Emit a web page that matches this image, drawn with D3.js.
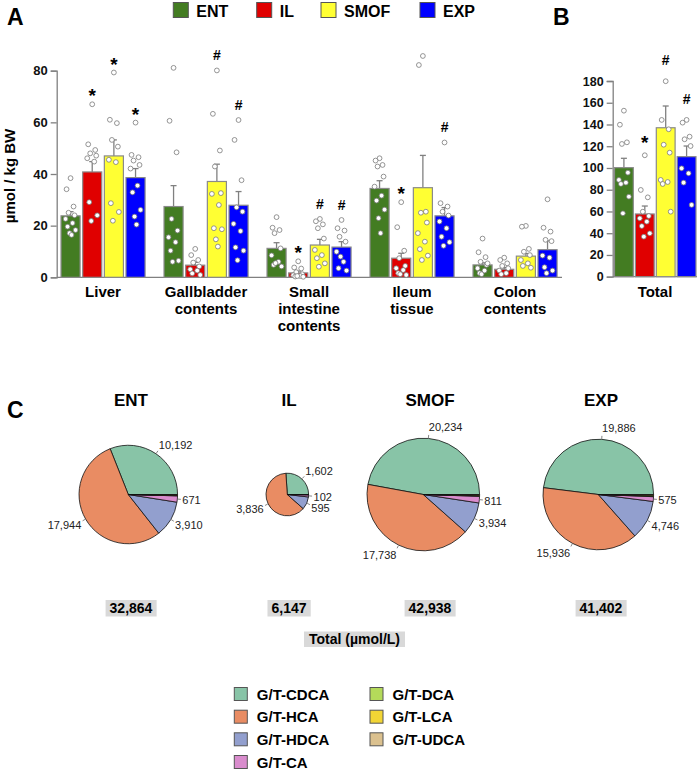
<!DOCTYPE html>
<html><head><meta charset="utf-8">
<script src="https://cdn.jsdelivr.net/npm/d3@7"></script>
<style>
body{margin:0;background:#fff;}
svg{display:block;font-family:"Liberation Sans",Arial,Helvetica,sans-serif;}
</style></head>
<body><svg id="chart" width="697" height="770"></svg>
<script>
// ---------- DATA ----------
const series = ["ENT","IL","SMOF","EXP"];
const seriesColors = ["#437c22","#e00000","#ffff33","#0000ff"];
const categories = ["Liver","Gallbladder contents","Small intestine contents","Ileum tissue","Colon contents"];
const yTicksA = [0,20,40,60,80];
const yTicksB = [0,20,40,60,80,100,120,140,160,180];

const entMean  = [23.8, 27.4, 11.2, 34.4, 4.8];
const ilMean   = [40.8, 4.7, 1.7, 7.4, 3.1];
const smofMean = [47.0, 37.1, 12.5, 34.7, 8.2];
const expMean  = [38.6, 27.9, 11.7, 23.8, 10.7];

const entErr  = [25.4, 35.5, 13.4, 37.4, 5.6];
const ilErr   = [44.8, 5.8, 2.4, 9.3, 3.8];
const smofErr = [53.2, 43.8, 14.7, 47.2, 9.2];
const expErr  = [42.1, 33.2, 13.8, 27.0, 14.1];

const entSig  = ["","","","",""];
const ilSig   = ["*","","*","*",""];
const smofSig = ["*","#","#","",""];
const expSig  = ["*","#","#","#",""];

const entDots = [
  [38.4,34.1,27.4,25.0,24.0,22.6,21.0,19.6,18.3,17.1,16.4],
  [81.1,60.6,48.4,22.6,18.1,15.5,13.6,10.3,6.4,6.0],
  [23.3,19.2,18.3,17.1,11.2,8.5,6.0,4.8,4.2,5.5],
  [46.1,45.2,43.5,42.9,39.0,35.1,31.6,29.7,26.2,22.9,17.1],
  [15.0,9.7,7.8,6.0,4.8,3.5,2.6,1.6,5.4,1.2]
];
const ilDots = [
  [67.0,51.5,49.3,48.0,47.1,46.1,44.8,29.1,24.0,21.8],
  [11.0,8.6,6.7,5.7,4.2,3.1,2.6,1.5,0.9],
  [6.2,3.8,3.4,2.0,1.2,0.8,0.5,0.3,0.2,0.5],
  [29.1,19.4,10.3,7.4,4.4,3.5,2.8,1.6,0.9,1.2],
  [7.6,6.7,5.4,4.4,3.5,2.6,1.6,1.2]
];
const smofDots = [
  [79.3,61.0,59.7,53.2,50.6,45.5,44.6,28.7,25.3,21.9],
  [80.1,63.3,49.1,42.9,32.6,32.3,28.0,19.0,18.6,14.7,11.9],
  [22.6,21.7,20.5,19.0,15.0,10.6,8.6,7.4,5.4,4.1],
  [85.7,82.2,25.4,25.0,21.2,17.1,13.8,10.9,8.4,6.7],
  [19.9,19.6,11.0,9.9,8.6,6.7,5.4,4.4,3.7]
];
const expDots = [
  [59.9,47.4,46.5,45.2,43.5,42.1,35.5,32.9,26.1,23.5,20.4],
  [60.9,53.2,37.6,27.1,25.4,20.7,17.9,11.6,10.3,6.6],
  [22.2,19.0,18.1,15.7,13.8,9.9,6.0,3.5,2.6,8.0],
  [52.2,28.7,27.4,25.4,23.9,21.6,19.0,15.7,13.6,12.2],
  [30.2,19.2,17.7,14.5,14.0,8.4,7.6,3.9,2.6,1.6]
];

// Panel B (Total)
const totalMean = [100.3, 57.7, 137.0, 110.4];
const totalErr  = [108.9, 65.0, 157.0, 120.2];
const totalSig  = ["","*","#","#"];
const totalDots = [
  [152.7,139.8,123.6,122.1,95.7,89.0,86.5,85.3,73.6,58.3],
  [111.7,79.8,73.0,59.8,55.8,53.7,50.6,46.6,39.9,36.8],
  [179.8,144.2,135.6,121.4,114.1,89.0,87.1,85.3,59.8],
  [144.2,141.7,128.8,126.4,120.2,99.7,95.1,86.5,66.0]
];

// Panel C (pies, µmol/L)
const acids = ["G/T-CDCA","G/T-HCA","G/T-HDCA","G/T-CA","G/T-DCA","G/T-LCA","G/T-UDCA"];
const acidColors = ["#88c4a7","#e98c63","#929fce","#d98ccd","#b4da5a","#f2d535","#dbc18f"];
const pieGroups = ["ENT","IL","SMOF","EXP"];
const pieENT  = [10192,17944,3910,671,45,60,42];
const pieIL   = [1602,3836,595,102,4,5,3];
const pieSMOF = [20234,17738,3934,811,71,95,55];
const pieEXP  = [19886,15936,4746,575,80,110,69];
const pieTotals = [32864,6147,42938,41402];
const labelledAcids = [0,1,2,3];

// ---------- DRAW ----------
const svg = d3.select("#chart");
const FONT = '"Liberation Sans",Arial,Helvetica,sans-serif';
const fmt = d3.format(",");
const meanArr = [entMean, ilMean, smofMean, expMean];
const errArr = [entErr, ilErr, smofErr, expErr];
const sigArr = [entSig, ilSig, smofSig, expSig];
const dotArr = [entDots, ilDots, smofDots, expDots];
const jitter = [0,-4,3,-2,4,-5,2,-3,5,-1,1];
const axisGray = "#808080";

// panel letters
svg.append("text").attr("x",7).attr("y",25).attr("font-size",23).attr("font-weight","bold").text("A");
svg.append("text").attr("x",553).attr("y",24.5).attr("font-size",23).attr("font-weight","bold").text("B");
svg.append("text").attr("x",7).attr("y",417.5).attr("font-size",23).attr("font-weight","bold").text("C");

// top legend
const legX = [173.3, 256.7, 321, 420];
series.forEach((s,i)=>{
  svg.append("rect").attr("x",legX[i]).attr("y",2.5).attr("width",15).attr("height",15)
    .attr("fill",seriesColors[i]).attr("stroke","#555").attr("stroke-width",1);
  svg.append("text").attr("x",legX[i]+23).attr("y",16.5).attr("font-size",16).attr("font-weight","bold").text(s);
});

// ----- Panel A -----
const yA = d3.scaleLinear().domain([0,80]).range([277.3,70.7]);
const xA = d3.scaleBand().domain(categories).range([56.7,561.4]).paddingInner(0.184).paddingOuter(0.042);
const xInner = d3.scaleBand().domain(series).range([0,xA.bandwidth()]).paddingInner(0.12);

const axA = svg.append("g").attr("transform","translate(56.7,0)")
  .call(d3.axisLeft(yA).tickValues(yTicksA).tickSize(6).tickPadding(3));
axA.select(".domain").attr("stroke",axisGray).attr("stroke-width",1.3);
axA.selectAll(".tick line").attr("stroke",axisGray).attr("stroke-width",1.3);
axA.selectAll(".tick text").attr("font-size",13).attr("font-weight","bold").attr("fill","#111").attr("font-family",FONT);
svg.append("line").attr("x1",56.7).attr("x2",562).attr("y1",yA(0)).attr("y2",yA(0)).attr("stroke",axisGray).attr("stroke-width",1.3);

svg.append("text").attr("transform","translate(15,176) rotate(-90)").attr("text-anchor","middle")
  .attr("font-size",15).attr("font-weight","bold").text("µmol / kg BW");

categories.forEach((c,ci)=>{
  const gx = xA(c);
  const lines = c.split(" ");
  lines.forEach((ln,li)=>{
    svg.append("text").attr("x",gx+xA.bandwidth()/2).attr("y",296.5+li*17).attr("text-anchor","middle")
      .attr("font-size",15).attr("font-weight","bold").text(ln);
  });
  series.forEach((s,si)=>{
    const bx = gx + xInner(s), bw = xInner.bandwidth(), cx = bx + bw/2;
    const m = meanArr[si][ci], e = errArr[si][ci];
    svg.append("line").attr("x1",cx).attr("x2",cx).attr("y1",yA(m)).attr("y2",yA(e)).attr("stroke",axisGray).attr("stroke-width",1.3);
    svg.append("line").attr("x1",cx-3).attr("x2",cx+3).attr("y1",yA(e)).attr("y2",yA(e)).attr("stroke",axisGray).attr("stroke-width",1.3);
    svg.append("rect").attr("x",bx).attr("y",yA(m)).attr("width",bw).attr("height",yA(0)-yA(m))
      .attr("fill",seriesColors[si]).attr("stroke","#8a8a8a").attr("stroke-width",1.2);
    const dots = dotArr[si][ci];
    dots.forEach((v,di)=>{
      svg.append("circle").attr("cx",cx+jitter[di%jitter.length]).attr("cy",yA(v)).attr("r",2.4)
        .attr("fill","#fff").attr("stroke","#7a7a7a").attr("stroke-width",0.8);
    });
    const sg = sigArr[si][ci];
    if(sg){
      const top = Math.max(d3.max(dots), e);
      svg.append("text").attr("x",cx).attr("y",yA(top) - (sg==="*"?2:10)).attr("text-anchor","middle")
        .attr("font-size",sg==="*"?19:14).attr("font-weight","bold").text(sg);
    }
  });
});

// ----- Panel B -----
const yB = d3.scaleLinear().domain([0,180]).range([276.7,81]);
const xB = d3.scaleBand().domain(series).range([614.5,696]).paddingInner(0.1);
const axB = svg.append("g").attr("transform","translate(612.7,0)")
  .call(d3.axisLeft(yB).tickValues(yTicksB).tickSize(6).tickPadding(3));
axB.select(".domain").attr("stroke",axisGray).attr("stroke-width",1.3);
axB.selectAll(".tick line").attr("stroke",axisGray).attr("stroke-width",1.3);
axB.selectAll(".tick text").attr("font-size",12.5).attr("font-weight","bold").attr("fill","#111").attr("font-family",FONT);
svg.append("line").attr("x1",612.7).attr("x2",697).attr("y1",yB(0)).attr("y2",yB(0)).attr("stroke",axisGray).attr("stroke-width",1.3);
svg.append("text").attr("x",655).attr("y",296.5).attr("text-anchor","middle").attr("font-size",15).attr("font-weight","bold").text("Total");

series.forEach((s,si)=>{
  const bx = xB(s), bw = xB.bandwidth(), cx = bx+bw/2;
  const m = totalMean[si], e = totalErr[si];
  svg.append("line").attr("x1",cx).attr("x2",cx).attr("y1",yB(m)).attr("y2",yB(e)).attr("stroke",axisGray).attr("stroke-width",1.3);
  svg.append("line").attr("x1",cx-3).attr("x2",cx+3).attr("y1",yB(e)).attr("y2",yB(e)).attr("stroke",axisGray).attr("stroke-width",1.3);
  svg.append("rect").attr("x",bx).attr("y",yB(m)).attr("width",bw).attr("height",yB(0)-yB(m))
    .attr("fill",seriesColors[si]).attr("stroke","#8a8a8a").attr("stroke-width",1.2);
  totalDots[si].forEach((v,di)=>{
    svg.append("circle").attr("cx",cx+jitter[di%jitter.length]).attr("cy",yB(v)).attr("r",2.4)
      .attr("fill","#fff").attr("stroke","#7a7a7a").attr("stroke-width",0.8);
  });
  const sg = totalSig[si];
  if(sg){
    const top = Math.max(d3.max(totalDots[si]), e);
    svg.append("text").attr("x",cx).attr("y",yB(top) - (sg==="*"?6:16)).attr("text-anchor","middle")
      .attr("font-size",sg==="*"?19:14).attr("font-weight","bold").text(sg);
  }
});

// ----- Panel C -----
const pieData = [pieENT, pieIL, pieSMOF, pieEXP];
const colX = [131, 289, 430, 601];
const pieCx = [128.3, 287.3, 423.3, 598.3];
const pieCy = 494.5;
const rScale = d3.scaleSqrt().domain([0, 42938]).range([0, 56.3]);
const pieGen = d3.pie().sort(null).value(d=>d).startAngle(Math.PI/2).endAngle(Math.PI/2 - 2*Math.PI);

pieGroups.forEach((g,gi)=>{
  svg.append("text").attr("x",colX[gi]).attr("y",406).attr("text-anchor","middle")
    .attr("font-size",17).attr("font-weight","bold").text(g);
  const r = rScale(pieTotals[gi]);
  const arc = d3.arc().innerRadius(0).outerRadius(r);
  const gp = svg.append("g").attr("transform",`translate(${pieCx[gi]},${pieCy})`);
  const arcs = pieGen(pieData[gi]);
  gp.selectAll("path").data(arcs).join("path").attr("d",arc)
    .attr("fill",(d,i)=>acidColors[i]).attr("stroke","#111").attr("stroke-width",0.8);
  arcs.forEach((d,i)=>{
    if(!labelledAcids.includes(i)) return;
    const a = (d.startAngle + d.endAngle)/2;
    const s = Math.sin(a), c = -Math.cos(a);
    const R = r + 5;
    gp.append("line").attr("x1",s*(r+0.5)).attr("y1",c*(r+0.5)).attr("x2",s*(r+3.5)).attr("y2",c*(r+3.5))
      .attr("stroke","#666").attr("stroke-width",0.8);
    gp.append("text").attr("x",s*R).attr("y",c*R + c*6 + 4)
      .attr("text-anchor", s>0.05?"start":(s<-0.05?"end":"middle"))
      .attr("font-size",11).attr("fill","#222").text(fmt(d.data));
  });
  // total box
  const t = svg.append("text").attr("x",colX[gi]).attr("y",613).attr("text-anchor","middle")
    .attr("font-size",14).attr("font-weight","bold").text(fmt(pieTotals[gi]));
  const bb = t.node().getBBox();
  svg.append("rect").attr("x",bb.x-4).attr("y",600).attr("width",bb.width+8).attr("height",16.5).attr("fill","#d9d9d9");
  t.raise();
});

// Total label
const tl = svg.append("text").attr("x",354.5).attr("y",644).attr("text-anchor","middle")
  .attr("font-size",14).attr("font-weight","bold").text("Total (µmol/L)");
const tlb = tl.node().getBBox();
svg.append("rect").attr("x",tlb.x-5).attr("y",631.5).attr("width",tlb.width+10).attr("height",15.5).attr("fill","#d9d9d9");
tl.raise();

// bottom legend
const legCols = [234.3, 370];
const rowY = [694, 716.7, 739.3, 762];
acids.forEach((a,i)=>{
  const col = i<4?0:1, row = i<4?i:i-4;
  svg.append("rect").attr("x",legCols[col]).attr("y",rowY[row]-6.5).attr("width",13).attr("height",13)
    .attr("fill",acidColors[i]).attr("stroke","#555").attr("stroke-width",1);
  svg.append("text").attr("x",legCols[col]+22.5).attr("y",rowY[row]+5.5).attr("font-size",15).attr("font-weight","bold").text(a);
});
</script></body></html>
